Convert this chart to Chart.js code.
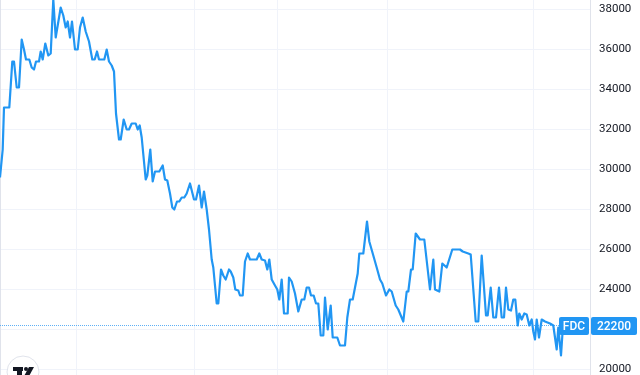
<!DOCTYPE html>
<html><head><meta charset="utf-8">
<script src="https://cdn.jsdelivr.net/npm/chart.js@4/dist/chart.umd.min.js"></script>
<style>html,body{margin:0;padding:0;background:#fff;overflow:hidden}#wrap{width:640px;height:375px;position:relative}</style>
</head><body><div id="wrap"><canvas id="c" width="640" height="375"></canvas></div>
<script>
const symbol = 'FDC';
const lastPrice = 22200;
const yTicks = [20000, 22000, 24000, 26000, 28000, 30000, 32000, 34000, 36000, 38000];
const monthLines = [76, 194, 277, 387, 533];
const sessions = [0,2.7,4,9.3,12.3,14,16.7,19,21.7,24,
26,29.3,31.7,34,36,39,40.7,42.7,45.3,48.3,
50.7,53.3,55.7,60.7,63.3,65.7,67.7,70,72,75,
77.7,80,82.7,85.7,89,92.3,94.7,97,99,104.3,
106.7,109,111.7,114,116,119,120.7,123.7,126.7,129,
131.7,135.7,137.7,139.7,141.7,145.7,147.3,150.3,152.7,155,
159.3,162.7,165,167.3,170,172.3,174.3,177,179.3,181.7,
184.3,186.7,190,194,196,199,201.7,204,206.7,209,
211.7,213.3,216.7,218.3,221,223.3,225.7,229,230.7,233.3,
235.3,238.3,240,242.7,245,247.7,250,256.7,259.3,261.7,
265,267.3,269.3,271.7,275,277.3,279.3,281.7,284,287.7,
289,291.7,295,298.3,301.7,304.3,306.7,309,311,313.7,
316,318.3,320.7,323.3,325,327.7,330.7,332.7,337.3,340,
345,347.3,350,352.7,357.7,359.3,363.3,367,369.3,373.3,
376.7,380,382.3,386,389.3,391.7,395.7,398.3,403.3,406.7,
408.3,411,412.7,415.7,420,424.3,430,433.3,435,439.3,
442.3,446.7,452.3,460,462.7,468.3,470.7,475.7,478.3,481.7,
486,487.7,490.7,493.3,496,499,501.7,504,506,508.3,
511,513.3,515.3,517.7,519.3,521.7,524.3,526.7,529.3,531.7,
533.3,535,536.7,539,541.7,545,550,553.3,556.7,558.3,
561,563];
const prices = [29600,31000,33100,33100,35400,35400,34100,34100,36500,36000,
35500,35500,35100,35000,35400,35400,35900,35500,36300,35700,
35800,38500,36600,38100,37700,37100,37400,36600,37400,36000,
36000,37100,37600,36900,36400,35500,35500,35900,35500,35500,
36000,35400,35200,34900,32800,31500,31500,32500,32000,32000,
32300,32300,32000,32200,31600,29500,29700,31000,29400,29900,
29900,30200,29500,29450,28800,28100,28000,28400,28400,28600,
28600,28800,29300,28500,28500,29200,28100,28900,28000,27000,
25500,25100,23300,23300,25000,24700,24500,25000,24900,24600,
24000,23950,23700,23700,25400,25800,25500,25500,25800,25500,
25450,25000,25500,24500,24200,24000,23500,24500,22800,22800,
24600,24400,23800,22900,23500,23500,24100,24100,23700,23700,
23300,23300,21700,21700,23600,22000,23200,21600,21600,21200,
21200,22600,23500,23500,24800,25800,25800,27400,26400,25700,
25100,24500,24300,23700,24000,23900,23200,23000,22400,23900,
23900,25000,25000,26800,26500,26500,24000,25500,24000,23900,
25300,25100,26000,26000,25900,25800,25750,22400,22400,25700,
22700,22700,24100,22600,22600,24100,22600,22600,24100,23000,
22950,23500,23500,22200,22800,22500,22800,22750,22200,22500,
21900,21500,22500,21600,22500,22400,22300,22200,21000,22100,
20700,22200];

const BLUE = '#2196f3';
const FONT = 'Roboto, "Open Sans", sans-serif';

function rr(ctx, x, y, w, h, r) {
  ctx.beginPath();
  ctx.moveTo(x + r, y); ctx.lineTo(x + w - r, y); ctx.quadraticCurveTo(x + w, y, x + w, y + r);
  ctx.lineTo(x + w, y + h - r); ctx.quadraticCurveTo(x + w, y + h, x + w - r, y + h);
  ctx.lineTo(x + r, y + h); ctx.quadraticCurveTo(x, y + h, x, y + h - r);
  ctx.lineTo(x, y + r); ctx.quadraticCurveTo(x, y, x + r, y); ctx.closePath();
}

const decor = {
  id: 'decor',
  beforeDatasetsDraw(chart) {
    const ctx = chart.ctx, a = chart.chartArea;
    ctx.save();
    ctx.strokeStyle = '#e0e3eb'; ctx.lineWidth = 1;
    ctx.beginPath(); ctx.moveTo(0.5, a.top); ctx.lineTo(0.5, a.bottom); ctx.stroke();
    ctx.restore();
  },
  afterDraw(chart) {
    const ctx = chart.ctx, a = chart.chartArea, ys = chart.scales.y;
    const y = Math.round(ys.getPixelForValue(lastPrice));
    ctx.save();
    ctx.fillStyle = BLUE;
    rr(ctx, a.right - 31, y - 9, 30, 18, 2); ctx.fill();
    rr(ctx, a.right + 1, y - 9, 46, 18, 2); ctx.fill();
    ctx.fillStyle = '#ffffff';
    ctx.font = '500 12px ' + FONT;
    ctx.textAlign = 'center'; ctx.textBaseline = 'middle';
    ctx.fillText(symbol, a.right - 16, y + 0.5);
    ctx.fillText(String(lastPrice), a.right + 24, y + 0.5);
    // logo
    ctx.beginPath(); ctx.arc(23, 372, 16, 0, Math.PI * 2);
    ctx.fillStyle = '#ffffff'; ctx.fill();
    ctx.strokeStyle = '#e0e3eb'; ctx.lineWidth = 1; ctx.stroke();
    ctx.fillStyle = '#131722';
    ctx.fillRect(13, 367, 10, 4);
    ctx.fillRect(17, 367, 5, 10);
    ctx.beginPath(); ctx.arc(26, 369, 2, 0, Math.PI * 2); ctx.fill();
    ctx.beginPath(); ctx.moveTo(29, 367); ctx.lineTo(34, 367); ctx.lineTo(28, 378); ctx.lineTo(23, 378); ctx.closePath(); ctx.fill();
    ctx.restore();
  }
};

new Chart(document.getElementById('c'), {
  type: 'line',
  data: {
    datasets: [{
      data: sessions.map((s, i) => ({ x: s, y: prices[i] })),
      borderColor: BLUE, borderWidth: 2.2, pointRadius: 0, tension: 0,
      borderJoinStyle: 'round', fill: false
    }, {
      data: [{ x: 0, y: lastPrice }, { x: 590, y: lastPrice }],
      borderColor: '#5fb0f5', borderWidth: 1, borderDash: [1, 1], pointRadius: 0, fill: false
    }]
  },
  options: {
    responsive: false, animation: false, devicePixelRatio: 1,
    layout: { padding: 0 },
    plugins: { legend: { display: false }, tooltip: { enabled: false } },
    scales: {
      x: {
        type: 'linear', min: 0, max: 590, position: 'bottom',
        afterBuildTicks: s => { s.ticks = monthLines.map(v => ({ value: v })); },
        afterFit: s => { s.height = 0; s.paddingLeft = 0; s.paddingRight = 0; s.paddingTop = 0; s.paddingBottom = 0; },
        ticks: { display: false },
        grid: { color: '#f0f3fa', drawTicks: false, lineWidth: 1 },
        border: { display: false }
      },
      y: {
        position: 'right', min: 19725, max: 38475,
        afterBuildTicks: s => { s.ticks = yTicks.map(v => ({ value: v })); },
        afterFit: s => { s.width = 50; s.paddingTop = 0; s.paddingBottom = 0; s.paddingLeft = 0; s.paddingRight = 0; },
        ticks: { color: '#131722', font: { family: FONT, size: 11.5 }, padding: 9, callback: v => String(v) },
        grid: { color: '#f0f3fa', drawTicks: false, lineWidth: 1 },
        border: { display: true, color: '#e0e3eb' }
      }
    }
  },
  plugins: [decor]
});
</script></body></html>
